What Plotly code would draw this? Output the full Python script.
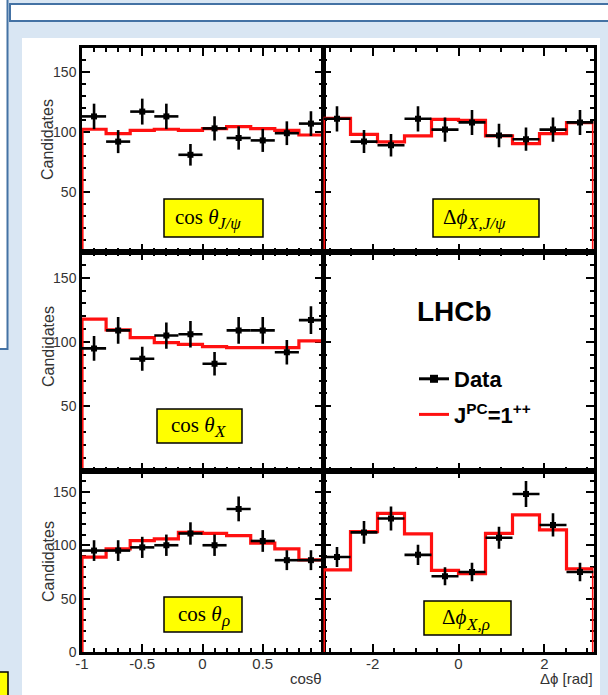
import numpy as np
import plotly.graph_objects as go

W, H = 608, 695

# ---- binning -------------------------------------------------------------
cos_edges = np.linspace(-1.0, 1.0, 11)
phi_edges = np.linspace(-np.pi, np.pi, 11)

# ---- cos(theta_J/psi) ------------------------------------------------------
cos_jpsi_data = [113, 92, 117, 113, 81, 103, 95, 93, 99, 107]
cos_jpsi_err = [10.6, 9.6, 10.8, 10.6, 9.0, 10.1, 9.7, 9.6, 9.9, 10.3]
cos_jpsi_fit = [102.3, 98.6, 101.4, 102.3, 101.4, 102.8, 104.5, 102.8, 101.4, 97.5]

# ---- delta phi (X, J/psi) --------------------------------------------------
dphi_jpsi_data = [111, 92, 89, 111, 102, 108, 97, 94, 102, 108]
dphi_jpsi_err = [10.5, 9.6, 9.4, 10.5, 10.1, 10.4, 9.8, 9.7, 10.1, 10.4]
dphi_jpsi_fit = [111.4, 98.0, 91.7, 96.7, 110.6, 109.7, 96.7, 90.3, 98.6, 107.8]

# ---- cos(theta_X) ----------------------------------------------------------
cos_x_data = [95, 109, 87, 105, 106, 83, 109, 109, 92, 117]
cos_x_err = [9.7, 10.4, 9.3, 10.2, 10.3, 9.1, 10.4, 10.4, 9.6, 10.8]
cos_x_fit = [117.7, 109.4, 103.4, 99.5, 98.2, 96.4, 95.6, 95.6, 95.6, 100.8]

# ---- cos(theta_rho) --------------------------------------------------------
cos_rho_data = [95, 95, 98, 100, 111, 100, 134, 104, 86, 86]
cos_rho_err = [9.7, 9.7, 9.9, 10.0, 10.5, 10.0, 11.6, 10.2, 9.3, 9.3]
cos_rho_fit = [88.8, 96.6, 104.4, 106.0, 112.1, 111.2, 109.0, 101.9, 96.6, 86.3]

# ---- delta phi (X, rho) ----------------------------------------------------
dphi_rho_data = [89, 112, 125, 91, 71, 75, 107, 148, 119, 75]
dphi_rho_err = [9.4, 10.6, 11.2, 9.5, 8.4, 8.7, 10.3, 12.2, 10.9, 8.7]
dphi_rho_fit = [77.0, 112.8, 129.9, 110.7, 76.4, 73.3, 111.2, 128.4, 114.4, 77.9]

# ---- axis labels -----------------------------------------------------------
cos_tick_vals = [-1, -0.5, 0, 0.5, 1]
cos_tick_text = ["-1", "-0.5", "0", "0.5", ""]
phi_tick_vals = [-2, 0, 2]
phi_tick_text = ["-2", "0", "2"]
y_tick_vals = [0, 50, 100, 150]

GREY = "#333333"
SANS = "Liberation Sans, Arial, Helvetica, sans-serif"
SERIF = "Liberation Serif, Times New Roman, DejaVu Serif, serif"
RED = "#ff1010"


def px_x(p):
    return p / W


def px_y(p):
    return 1 - p / H


# panel frames in pixels: (left, right), (top, bottom)
col_px = {"L": (82, 323), "R": (323.5, 593.5)}
row_px = {1: (48, 252), 2: (252, 470.5), 3: (470.5, 652)}

panels = [
    # axis index, column, row, kind, data, errors, fit
    (1, "L", 1, "cos", cos_jpsi_data, cos_jpsi_err, cos_jpsi_fit),
    (2, "R", 1, "phi", dphi_jpsi_data, dphi_jpsi_err, dphi_jpsi_fit),
    (3, "L", 2, "cos", cos_x_data, cos_x_err, cos_x_fit),
    (4, "R", 2, "phi", None, None, None),
    (5, "L", 3, "cos", cos_rho_data, cos_rho_err, cos_rho_fit),
    (6, "R", 3, "phi", dphi_rho_data, dphi_rho_err, dphi_rho_fit),
]

fig = go.Figure()

# legend entries
fig.add_trace(go.Scatter(
    x=[None], y=[None], mode="lines+markers", name="Data",
    line=dict(color="black", width=3),
    marker=dict(symbol="square", size=8, color="black"),
    xaxis="x4", yaxis="y4", legendgroup="a"))
fig.add_trace(go.Scatter(
    x=[None], y=[None], mode="lines", name="J<sup>PC</sup>=1<sup>++</sup>",
    line=dict(color=RED, width=3),
    xaxis="x4", yaxis="y4", legendgroup="b"))

axis_common = dict(
    showline=True, linecolor="black", linewidth=2.5, mirror="allticks",
    ticks="inside", tickcolor="black", tickwidth=2, ticklen=8,
    showgrid=False, zeroline=False, layer="below traces", automargin=False,
    tickfont=dict(family=SANS, size=14, color=GREY),
)

layout_axes = {}
for idx, col, row, kind, data, err, fit in panels:
    sfx = "" if idx == 1 else str(idx)
    xl, xr = col_px[col]
    yt, yb = row_px[row]
    edges = cos_edges if kind == "cos" else phi_edges

    if kind == "cos":
        xa = dict(range=[-1, 1], tickmode="array", tickvals=cos_tick_vals,
                  ticktext=cos_tick_text,
                  minor=dict(tick0=0, dtick=0.1, ticks="inside", ticklen=4,
                             tickwidth=2, tickcolor="black"))
    else:
        xa = dict(range=[-np.pi, np.pi], tickmode="array",
                  tickvals=phi_tick_vals, ticktext=phi_tick_text,
                  minor=dict(tick0=0, dtick=0.5, ticks="inside", ticklen=4,
                             tickwidth=2, tickcolor="black"))
    xa.update(axis_common)
    xa.update(domain=[px_x(xl), px_x(xr)], anchor="y" + sfx,
              showticklabels=(row == 3), ticklabelstandoff=-4)
    xa["tickfont"] = dict(family=SANS, size=15, color=GREY)

    ya = dict(range=[0, 170], tickmode="array", tickvals=y_tick_vals,
              ticktext=["0" if row == 3 else "", "50", "100", "150"],
              minor=dict(tick0=0, dtick=10, ticks="inside", ticklen=4,
                         tickwidth=2, tickcolor="black"))
    ya.update(axis_common)
    ya.update(domain=[px_y(yb), px_y(yt)], anchor="x" + sfx,
              showticklabels=(col == "L"))

    layout_axes["xaxis" + sfx] = xa
    layout_axes["yaxis" + sfx] = ya

    if data is None:
        continue

    centres = 0.5 * (edges[:-1] + edges[1:])
    half = 0.5 * (edges[1] - edges[0])

    # model histogram, drawn as a closed step outline
    step_x = [edges[0]] + list(edges[:-1]) + [edges[-1]]
    step_y = [0] + list(fit) + [0]
    fig.add_trace(go.Scatter(
        x=step_x, y=step_y, mode="lines", line=dict(color=RED, width=3.2, shape="hv"),
        showlegend=False, hoverinfo="skip",
        xaxis="x" + sfx, yaxis="y" + sfx))

    # data points with statistical errors
    fig.add_trace(go.Scatter(
        x=centres, y=data, mode="markers",
        marker=dict(symbol="square", size=6, color="black"),
        error_y=dict(type="data", array=err, thickness=2.6, width=0, color="black"),
        error_x=dict(type="constant", value=half, thickness=2.6, width=0, color="black"),
        showlegend=False, xaxis="x" + sfx, yaxis="y" + sfx))

shapes = [
    # slide content area and frames
    dict(type="rect", xref="paper", yref="paper", layer="below",
         x0=px_x(22), x1=px_x(600), y0=px_y(720), y1=px_y(38),
         fillcolor="white", line=dict(width=0)),
    dict(type="rect", xref="paper", yref="paper", layer="below",
         x0=px_x(10), x1=px_x(640), y0=px_y(21), y1=px_y(4),
         fillcolor="white", line=dict(color="#4472a4", width=2)),
    dict(type="rect", xref="paper", yref="paper", layer="below",
         x0=px_x(-20), x1=px_x(7.5), y0=px_y(349), y1=px_y(-20),
         fillcolor="white", line=dict(color="#4472a4", width=2)),
    dict(type="rect", xref="paper", yref="paper", layer="below",
         x0=px_x(-20), x1=px_x(8), y0=px_y(720), y1=px_y(672),
         fillcolor="#ffff00", line=dict(color="black", width=1.5)),
]

# variable name boxes: box (left, right, top, bottom), split x, symbol, subscript
label_boxes = [
    ((164, 263, 199, 237), 219, "cos <i>θ</i>", "<i>J/ψ</i>"),
    ((433, 539, 199, 237), 468, "Δ<i>ϕ</i>", "<i>X,J/ψ</i>"),
    ((157, 242, 409, 443), 215, "cos <i>θ</i>", "<i>X</i>"),
    ((164, 242, 597, 632), 222, "cos <i>θ</i>", "<i>ρ</i>"),
    ((424, 511, 601, 635), 467, "Δ<i>ϕ</i>", "<i>X,ρ</i>"),
]

annotations = []
for (l, r, t, b), split, main, sub in label_boxes:
    shapes.append(dict(type="rect", xref="paper", yref="paper", layer="above",
                       x0=px_x(l), x1=px_x(r), y0=px_y(b), y1=px_y(t),
                       fillcolor="#ffff00", line=dict(color="black", width=1.5)))
    yc = (t + b) / 2
    annotations.append(dict(xref="paper", yref="paper", x=px_x(split + 2),
                            y=px_y(yc - 1), xanchor="right", yanchor="middle",
                            text=main, showarrow=False,
                            font=dict(family=SERIF, size=21, color="black")))
    annotations.append(dict(xref="paper", yref="paper", x=px_x(split - 3),
                            y=px_y(yc + 6), xanchor="left", yanchor="middle",
                            text=sub, showarrow=False,
                            font=dict(family=SERIF, size=17, color="black")))

for yc in (140, 347, 562):
    annotations.append(dict(xref="paper", yref="paper", x=px_x(48), y=px_y(yc),
                            text="Candidates", textangle=-90, showarrow=False,
                            xanchor="center", yanchor="middle",
                            font=dict(family=SANS, size=16, color=GREY)))

annotations += [
    dict(xref="paper", yref="paper", x=px_x(324), y=px_y(678), text="cosθ",
         xanchor="right", yanchor="middle", showarrow=False,
         font=dict(family=SANS, size=15, color=GREY)),
    dict(xref="paper", yref="paper", x=px_x(595), y=px_y(678), text="Δϕ [rad]",
         xanchor="right", yanchor="middle", showarrow=False,
         font=dict(family=SANS, size=15, color=GREY)),
    dict(xref="paper", yref="paper", x=px_x(415), y=px_y(312), text="LHCb",
         xanchor="left", yanchor="middle", showarrow=False,
         font=dict(family=SANS, size=28, color="black", weight="bold")),
]

fig.update_layout(
    width=W, height=H, margin=dict(l=0, r=0, t=0, b=0, autoexpand=False),
    paper_bgcolor="#d9e6f3", plot_bgcolor="white",
    shapes=shapes, annotations=annotations,
    legend=dict(x=px_x(414), y=px_y(358), xanchor="left", yanchor="top",
                bgcolor="rgba(0,0,0,0)", tracegroupgap=4,
                font=dict(family=SANS, size=22, color="black", weight="bold")),
    **layout_axes,
)

fig.write_html(
    "out.html",
    post_script="document.body.style.margin='0';document.body.style.overflow='hidden';",
)
